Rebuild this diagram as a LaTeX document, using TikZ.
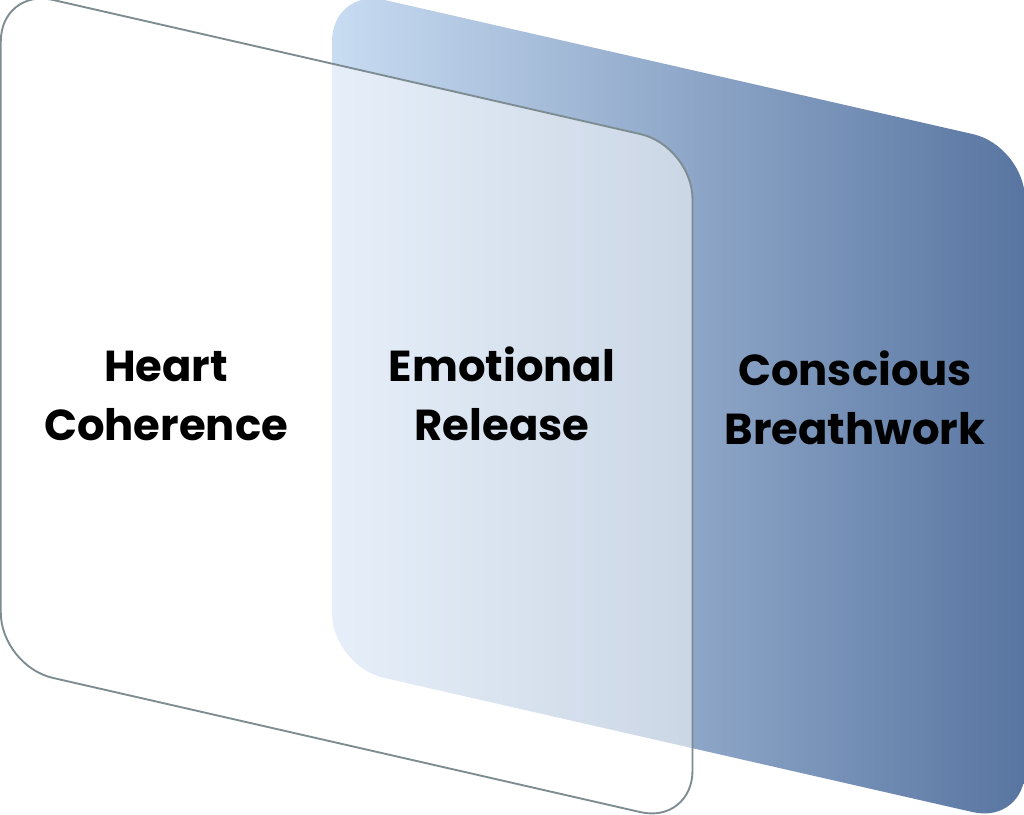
\documentclass[tikz,border=0pt]{standalone}
\usepackage{fontspec}
\setmainfont{Poppins}
\definecolor{paleblue}{RGB}{200,220,242}
\definecolor{deepblue}{RGB}{88,117,161}
\definecolor{rimgray}{RGB}{125,140,145}
\tikzset{
  cardshape/.style={rounded corners=40pt},
  cardtext/.style={font=\fontsize{32.5}{44}\selectfont\bfseries, align=center, inner sep=0pt}
}
\begin{document}
\begin{tikzpicture}[x=0.75pt,y=-0.75pt]
\useasboundingbox (0,0) rectangle (1024,814);
\clip (0,0) rectangle (1024,814);

\shade[cardshape, left color=paleblue, right color=deepblue] (332,-12) -- (1025,146) -- (1025,824) -- (332,666) -- cycle;
\draw[cardshape, fill=white, fill opacity=0.55, draw=rimgray, line width=1.4pt] (0.8,-12) -- (692.5,146) -- (692.5,824) -- (0.8,666) -- cycle;

\node[cardtext] (heart) at (166,396) {Heart\\Coherence};
\node[cardtext] (release) at (502,394) {Emotional\\Release};
\node[cardtext] (breath) at (855,398) {Conscious\\Breathwork};
\end{tikzpicture}
\end{document}
